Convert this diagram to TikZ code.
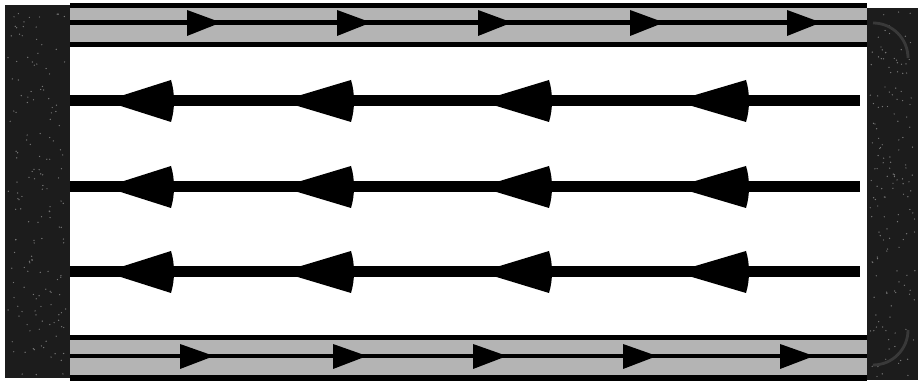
\documentclass[tikz,border=0pt]{standalone}
\usetikzlibrary{arrows.meta}
\definecolor{chanfill}{RGB}{180,180,180}
\definecolor{wallfill}{RGB}{28,28,28}
\definecolor{speck}{RGB}{120,120,120}

\begin{document}
\begin{tikzpicture}[x=0.01cm, y=-0.01cm,
  flowline/.style={line width=0.11cm, black},
  flowhead/.style={fill=black},
  chanhead/.style={fill=black}]
\useasboundingbox (0,0) rectangle (922,383);

% Side walls
\fill[wallfill] (5,5) rectangle (70,378);
\fill[wallfill] (867,8) rectangle (918,380);
\pgfmathsetseed{7}
\foreach \i in {1,...,160} {
  \fill[speck] ({8+58*rnd},{10+365*rnd}) circle (0.7);
  \fill[speck] ({870+45*rnd},{12+365*rnd}) circle (0.7);
}
% Turning flow in the right wall
\draw[gray!45!black, line width=0.8pt] (873,23) arc[start angle=-90, end angle=0, radius=35];
\draw[gray!45!black, line width=0.8pt] (908,330) arc[start angle=0, end angle=90, radius=35];

% Top channel
\fill[black] (70,3) rectangle (867,47);
\fill[chanfill] (70,8) rectangle (867,20);
\fill[chanfill] (70,25) rectangle (867,42);
\foreach \bx in {187,337,478,630,787}
  \fill[chanhead] (\bx,10) -- (\bx+34,22.5) -- (\bx,36) -- cycle;

% Bottom channel
\fill[black] (70,335) rectangle (867,381);
\fill[chanfill] (70,340) rectangle (867,354);
\fill[chanfill] (70,358) rectangle (867,375);
\foreach \bx in {180,333,473,623,780}
  \fill[chanhead] (\bx,344) -- (\bx+34,356) -- (\bx,369) -- cycle;

% Return flow rows
\foreach \ry in {101,187,272} {
  \draw[flowline] (70,\ry) -- (860,\ry);
  \foreach \tipx/\basex in {105/171,281/351,480/549,675/746}
    \fill[flowhead] (\tipx,\ry) -- (\basex,\ry-21)
      .. controls (\basex+4,\ry-8) and (\basex+4,\ry+8) .. (\basex,\ry+21) -- cycle;
}
\end{tikzpicture}
\end{document}
